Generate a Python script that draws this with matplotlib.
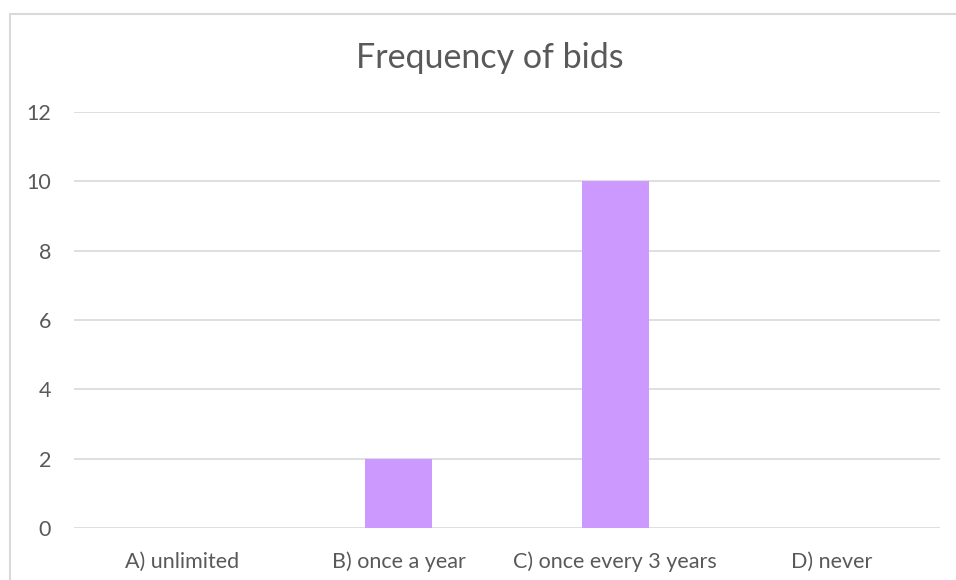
import matplotlib
matplotlib.use("Agg")
import matplotlib.pyplot as plt
from matplotlib.patches import Rectangle

categories = ["A) unlimited", "B) once a year", "C) once every 3 years", "D) never"]
values = [0, 2, 10, 0]
yticks = [0, 2, 4, 6, 8, 10, 12]
title = "Frequency of bids"

W, H = 956, 580
fig = plt.figure(figsize=(W / 100, H / 100), dpi=100)
plt.rcParams['font.family'] = ['Lato', 'DejaVu Sans']

# chart border
fig.patches.append(Rectangle((10 / W, -0.1), 1.2, 1 - 14 / H + 0.1, transform=fig.transFigure,
                             fill=False, edgecolor='#D9D9D9', linewidth=1.5))

ax = fig.add_axes([74 / W, 1 - 528 / H, (940 - 74) / W, (528 - 112) / H])
x = range(len(categories))
ax.bar(x, values, width=0.31, color='#CC99FF', zorder=3)
ax.set_xlim(-0.5, len(categories) - 0.5)
ax.set_ylim(0, 12)
ax.set_yticks(yticks)
ax.set_yticklabels([str(v) for v in yticks])
ax.set_xticks(list(x))
ax.set_xticklabels(categories)
for s in ax.spines.values():
    s.set_visible(False)
ax.grid(axis='y', color='#D9D9D9', linewidth=1.2, zorder=0)
ax.tick_params(axis='both', length=0, colors='#595959', labelsize=15.5)
ax.tick_params(axis='y', pad=16.5)
ax.tick_params(axis='x', pad=17)
fig.text(490 / W, 1 - 58 / H, title, ha='center', va='center', fontsize=24.5, color='#595959')

fig.savefig("out.png", dpi=100)
